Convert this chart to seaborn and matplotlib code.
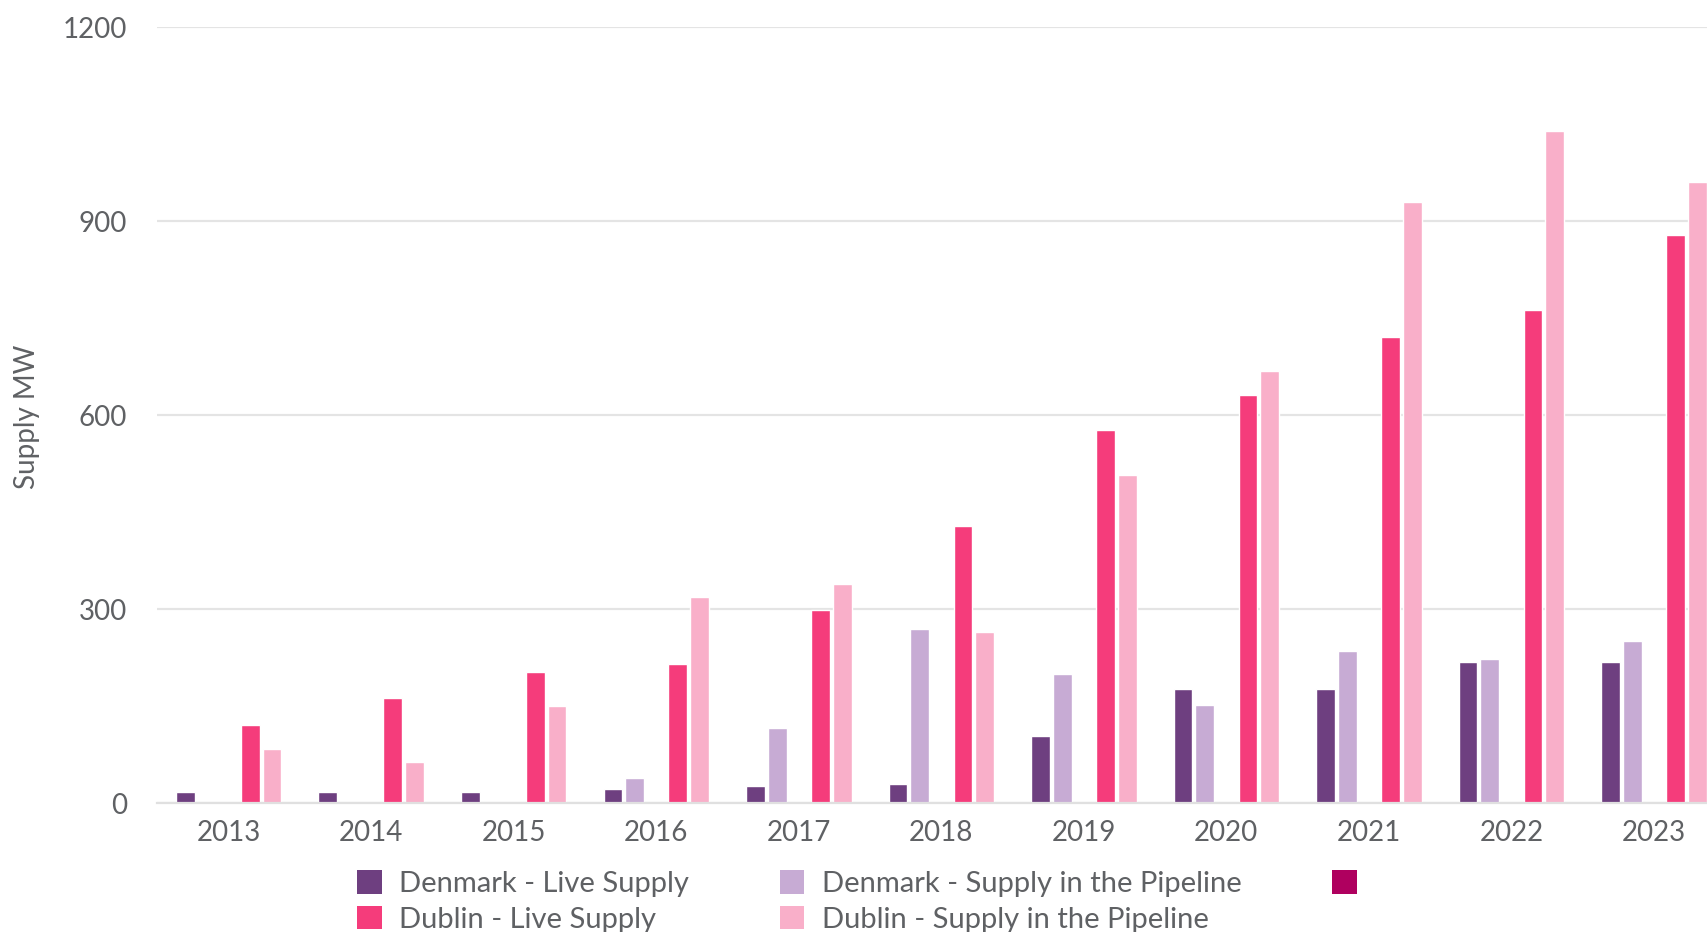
import matplotlib
matplotlib.use("Agg")
import matplotlib.pyplot as plt
from matplotlib.patches import Patch
import seaborn as sns
import pandas as pd

years = ["2013", "2014", "2015", "2016", "2017", "2018", "2019", "2020", "2021", "2022", "2023"]
denmark_live = [17, 17, 17, 22, 27, 30, 104, 177, 177, 218, 218]
denmark_pipeline = [0, 0, 0, 39, 116, 269, 199, 152, 235, 223, 251]
blank_series = [0, 0, 0, 0, 0, 0, 0, 0, 0, 0, 0]
dublin_live = [120, 162, 202, 215, 298, 429, 577, 631, 720, 762, 878]
dublin_pipeline = [84, 64, 150, 318, 338, 264, 507, 668, 930, 1039, 960]

series_names = ["Denmark - Live Supply", "Denmark - Supply in the Pipeline", "",
                "Dublin - Live Supply", "Dublin - Supply in the Pipeline"]
series_values = [denmark_live, denmark_pipeline, blank_series, dublin_live, dublin_pipeline]
colors = ["#6E3F80", "#C7ABD4", "#AF005F", "#F53C7B", "#F9AFC9"]

rows = []
for name, vals in zip(series_names, series_values):
    for y, v in zip(years, vals):
        rows.append({"year": y, "series": name, "value": v})
df = pd.DataFrame(rows)

sns.set_theme(style="white")
plt.rcParams["font.family"] = ["Lato", "DejaVu Sans"]
text_color = "#5F6164"

fig = plt.figure(figsize=(17.08, 9.32), dpi=100)
ax = fig.add_axes([0.0922, 0.1384, 1.010 - 0.0922, 0.971 - 0.1384])

sns.barplot(data=df, x="year", y="value", hue="series", hue_order=series_names,
            order=years, palette=dict(zip(series_names, colors)), saturation=1,
            width=0.76, gap=0.13, errorbar=None, legend=False, ax=ax)

ax.set_xlim(-0.5, 10.5)
ax.set_ylim(0, 1200)
ax.set_yticks([0, 300, 600, 900, 1200])
ax.yaxis.grid(True, color="#E4E4E4", linewidth=1.6)
ax.set_axisbelow(True)
for s in ["top", "right", "left"]:
    ax.spines[s].set_visible(False)
ax.spines["bottom"].set_color("#E0E0E0")
ax.spines["bottom"].set_linewidth(1.6)
ax.tick_params(axis="both", length=0, labelsize=20, colors=text_color)
ax.tick_params(axis="y", pad=22)
ax.tick_params(axis="x", pad=12)
ax.set_xlabel("")
ax.set_ylabel("")
fig.text(0.016, 0.553, "Supply MW", rotation=90, ha="center", va="center",
         fontsize=20, color=text_color)

handles = [Patch(facecolor=c, edgecolor="none") for c in colors]
order = [0, 3, 1, 4, 2]
fig.legend([handles[i] for i in order], [series_names[i] for i in order],
           ncol=3, loc="upper left", bbox_to_anchor=(0.209, 0.066),
           frameon=False, fontsize=21, labelcolor=text_color,
           handlelength=0.85, handleheight=0.85, handletextpad=0.6,
           columnspacing=3.1, labelspacing=0.3, borderaxespad=0, borderpad=0)

fig.savefig("out.png", dpi=100)
